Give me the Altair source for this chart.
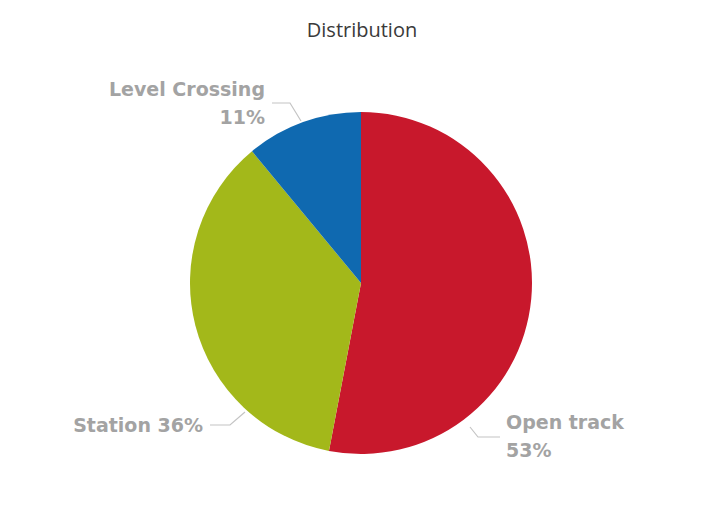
import altair as alt
import pandas as pd

# ---- data ----
categories = ["Open track", "Station", "Level Crossing"]
shares = [53, 36, 11]
slice_colors = ["#C8182C", "#A3B81A", "#0F69B0"]
title_text = "Distribution"

# ---- layout (page px minus 8px margin) ----
OFF = 8
CX, CY, R = 361 - OFF, 283 - OFF, 171

pie_df = pd.DataFrame({"category": categories, "share": shares,
                       "order": list(range(len(categories)))})
share_of = dict(zip(categories, shares))

# label lines: (category, text, x, y, align)
label_rows = [
    ("Level Crossing", "Level Crossing", 265, 96, "right"),
    ("Level Crossing", f"{share_of['Level Crossing']}%", 265, 124, "right"),
    ("Station", f"Station {share_of['Station']}%", 203, 432, "right"),
    ("Open track", "Open track", 506, 429, "left"),
    ("Open track", f"{share_of['Open track']}%", 506, 457, "left"),
]
lab_df = pd.DataFrame(
    [{"category": c, "text": t, "x": x - OFF, "y": y - OFF, "align": a}
     for c, t, x, y, a in label_rows]
)

leader = {
    "Level Crossing": [(272, 103), (290, 103), (301, 121)],
    "Station": [(210, 425), (230, 425), (245, 412)],
    "Open track": [(500, 437), (478, 437), (470, 427)],
}
line_df = pd.DataFrame(
    [{"category": cat, "i": i, "x": x - OFF, "y": y - OFF}
     for cat, pts in leader.items() for i, (x, y) in enumerate(pts)]
)

title_df = pd.DataFrame({"t": [title_text], "x": [362 - OFF], "y": [31 - OFF]})

pie = alt.Chart(pie_df).mark_arc(radius=R).encode(
    theta=alt.Theta("share:Q", stack=True),
    order=alt.Order("order:Q"),
    color=alt.Color("category:N", scale=alt.Scale(domain=categories, range=slice_colors), legend=None),
    x=alt.value(CX),
    y=alt.value(CY),
)

lines = alt.Chart(line_df).mark_line(color="#c4c4c4", strokeWidth=1.2).encode(
    x=alt.X("x:Q", scale=None),
    y=alt.Y("y:Q", scale=None),
    detail="category:N",
    order="i:Q",
)

def text_layer(align):
    return alt.Chart(lab_df[lab_df["align"] == align]).mark_text(
        align=align, baseline="alphabetic", font="DejaVu Sans", fontSize=19,
        fontWeight="bold", color="#a3a3a3"
    ).encode(
        x=alt.X("x:Q", scale=None),
        y=alt.Y("y:Q", scale=None),
        text="text:N",
    )

title = alt.Chart(title_df).mark_text(
    align="center", baseline="middle", font="Open Sans", fontSize=20, color="#3a3a3a"
).encode(x=alt.X("x:Q", scale=None), y=alt.Y("y:Q", scale=None), text="t:N")

chart = alt.layer(pie, lines, text_layer("right"), text_layer("left"), title).properties(
    width=688, height=506, autosize=alt.AutoSizeParams(type="none"), padding=0,
    background="white",
).configure_view(stroke=None)

chart.save("out.html", embed_options={"renderer": "svg", "actions": False})
